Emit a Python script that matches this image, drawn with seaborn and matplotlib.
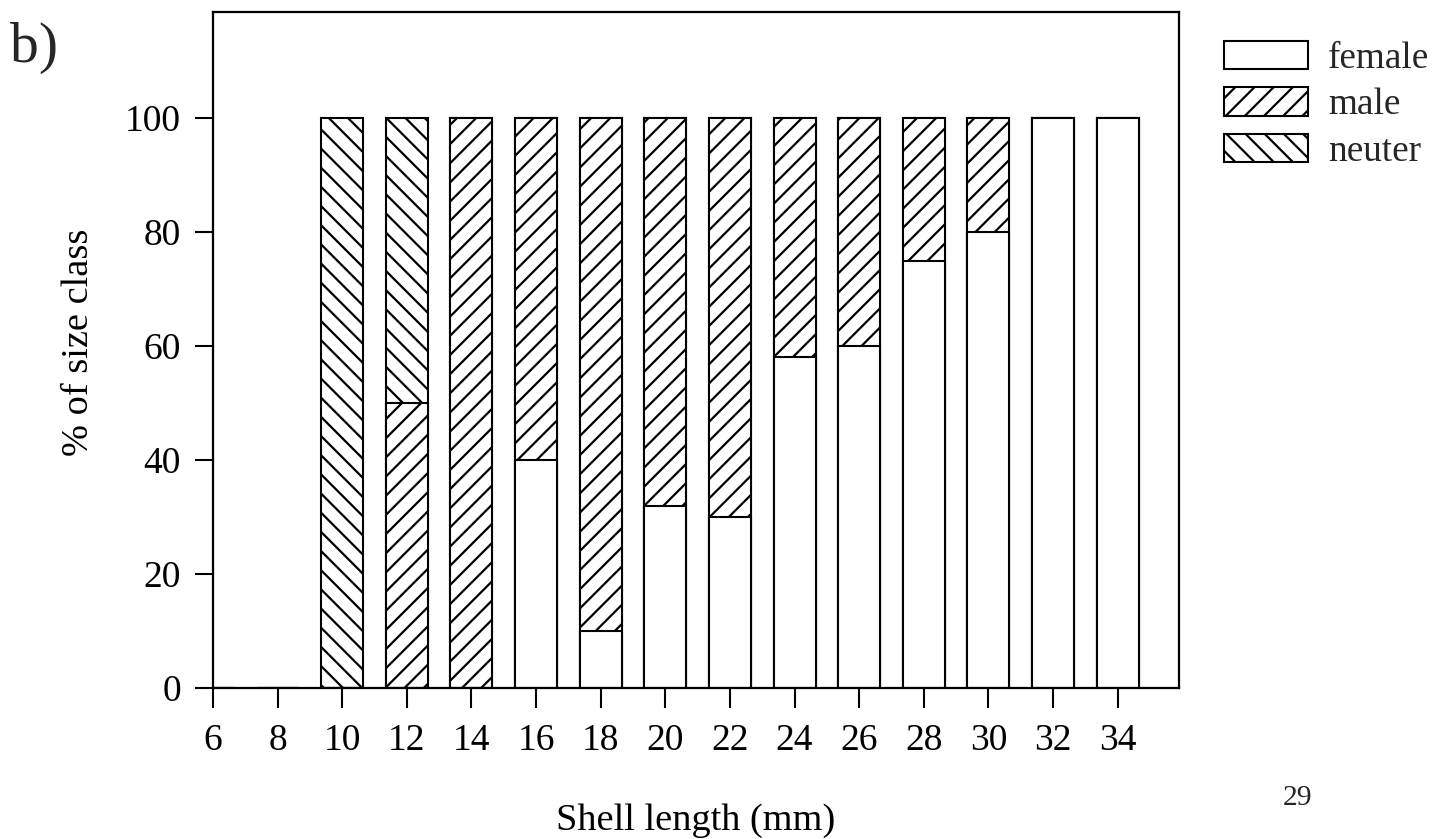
import matplotlib
matplotlib.use("Agg")
import matplotlib.pyplot as plt
from matplotlib.patches import Patch
import numpy as np
import pandas as pd
import seaborn as sns

# Shell length classes (mm) and composition of each class (%)
sizes = [6, 8, 10, 12, 14, 16, 18, 20, 22, 24, 26, 28, 30, 32, 34]
female = [0, 0, 0, 0, 0, 40, 10, 32, 30, 58, 60, 75, 80, 100, 100]
male = [0, 0, 0, 50, 100, 60, 90, 68, 70, 42, 40, 25, 20, 0, 0]
neuter = [0, 0, 100, 50, 0, 0, 0, 0, 0, 0, 0, 0, 0, 0, 0]
yticks = [0, 20, 40, 60, 80, 100]

DPI = 115
sns.set_theme(style="ticks")
plt.rcParams["font.family"] = ["Liberation Serif", "DejaVu Serif"]
plt.rcParams["hatch.linewidth"] = 1.4
plt.rcParams["hatch.color"] = "black"

df = pd.DataFrame({"size": sizes, "female": female, "male": male, "neuter": neuter})
df["female_male"] = df["female"] + df["male"]
df["total"] = df["female_male"] + df["neuter"]

fig = plt.figure(figsize=(1451 / DPI, 839 / DPI), dpi=DPI)
ax = fig.add_axes([213 / 1451, 1 - 688 / 839, (1179 - 213) / 1451, (688 - 12) / 839])

bar_kw = dict(color="white", edgecolor="black", linewidth=1.3, saturation=1,
              native_scale=True, width=0.65, ax=ax, errorbar=None)
# stacked bars drawn as overlapping cumulative totals, top segment first
sns.barplot(data=df, x="size", y="total", hatch="\\\\", **bar_kw)
sns.barplot(data=df, x="size", y="female_male", hatch="//", **bar_kw)
sns.barplot(data=df, x="size", y="female", **bar_kw)

ax.set_xlim(6, 35.9)
ax.set_ylim(0, 118.6)
ax.set_xticks(sizes)
ax.set_xticklabels([str(s) for s in sizes])
ax.set_yticks(yticks)
ax.set_yticklabels([str(t) for t in yticks])
ax.tick_params(axis="x", direction="out", length=12.5, width=1.3, pad=10,
               labelsize=23.5, colors="black")
ax.tick_params(axis="y", direction="out", length=11, width=1.3, pad=9,
               labelsize=23.5, colors="black")
for sp in ax.spines.values():
    sp.set_visible(True)
    sp.set_linewidth(1.4)
    sp.set_color("black")

ax.set_xlabel("Shell length (mm)", fontsize=24, color="black", va="center")
ax.set_ylabel("% of size class", fontsize=24, color="black", va="center")
ax.xaxis.set_label_coords(0.5, -(821 - 688) / 676)
ax.yaxis.set_label_coords(-(213 - 79) / 966, (688 - 342) / 676)

handles = [
    Patch(facecolor="white", edgecolor="black", linewidth=1.3, label="female"),
    Patch(facecolor="white", edgecolor="black", linewidth=1.3, hatch="//", label="male"),
    Patch(facecolor="white", edgecolor="black", linewidth=1.3, hatch="\\\\", label="neuter"),
]
fig.legend(handles=handles, loc="upper left", bbox_to_anchor=(1224 / 1451, 1 - 41 / 839),
           frameon=False, fontsize=23.3, handlelength=2.25, handleheight=0.8,
           handletextpad=0.55, labelspacing=0.3, borderpad=0, borderaxespad=0)

fig.text(10 / 1451, 1 - 48 / 839, "b)", fontsize=36, va="center", ha="left")
fig.text(1297 / 1451, 1 - 798 / 839, "29", fontsize=18.5, va="center", ha="center")

fig.savefig("out.png", dpi=DPI, facecolor="white")
